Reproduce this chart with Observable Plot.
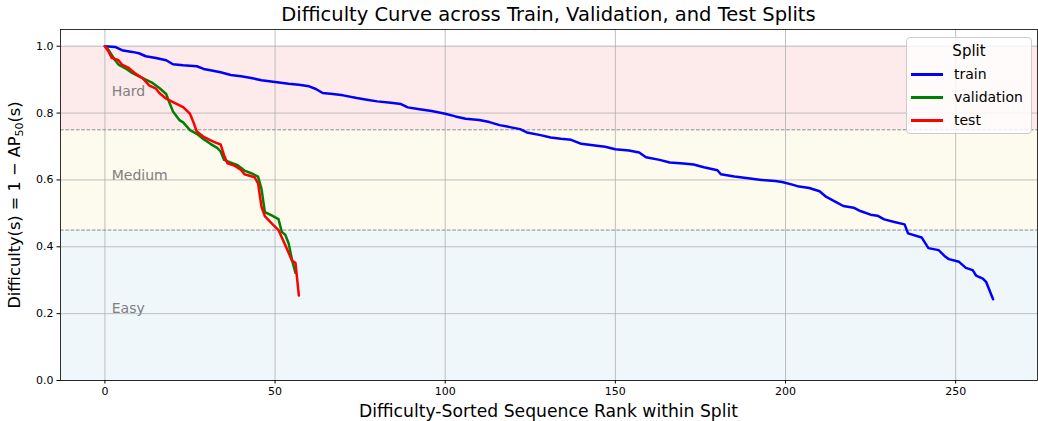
<!DOCTYPE html>
<html><head><meta charset="utf-8">
<script src="https://cdn.jsdelivr.net/npm/d3@7"></script>
<script src="https://cdn.jsdelivr.net/npm/@observablehq/plot@0.6"></script>
<style>
body{margin:0;background:#fff;font-family:"DejaVu Sans",sans-serif;}
#wrap{position:relative;width:1038px;height:421px;overflow:hidden;background:#fff;}
#title{position:absolute;left:60px;width:977px;top:4px;text-align:center;font-size:19.5px;line-height:22px;color:#000;}
#chart{position:absolute;left:0;top:28px;}
#xlabel{position:absolute;left:60px;width:977px;top:401px;text-align:center;font-size:17.2px;line-height:20px;color:#000;}
#ylabel{position:absolute;left:-185px;width:400px;top:195px;text-align:center;font-size:16.2px;line-height:20px;color:#000;transform:rotate(-90deg);}
#ylabel sub{font-size:11px;vertical-align:-3px;line-height:0;}
#legend{position:absolute;left:906px;top:37px;width:124px;height:95px;background:rgba(255,255,255,0.8);border:1px solid #cccccc;border-radius:4px;font-size:14px;color:#000;}
#legend .lt{position:absolute;left:0;width:124px;top:4px;text-align:center;font-size:15px;}
#legend .row{position:absolute;left:0;height:20px;line-height:20px;}
#legend .sw{position:absolute;left:4px;top:9px;width:32px;height:2.5px;}
#legend .lab{position:absolute;left:47px;top:0;white-space:nowrap;}
</style></head><body>
<div id="wrap">
  <div id="title">Difficulty Curve across Train, Validation, and Test Splits</div>
  <div id="chart"></div>
  <div id="xlabel">Difficulty-Sorted Sequence Rank within Split</div>
  <div id="ylabel">Difficulty(s) = 1 − AP<sub>50</sub>(s)</div>
  <div id="legend"></div>
</div>
<script>
const xTicks = [0, 50, 100, 150, 200, 250];
const yTicks = [0, 0.2, 0.4, 0.6, 0.8, 1.0];

const splitNames = ["train", "validation", "test"];
const splitColors = ["#0000ff", "#008000", "#ff0000"];

const trainRank = [0,3,5,8,10,12,15,18,20,23,27,29,31,34,37,40,43,46,50,54,57,60,62,64,67,70,74,77,80,84,87,89,92,96,100,103,106,110,113,116,119,122,124,128,131,134,137,140,144,147,150,154,157,159,163,166,170,173,176,180,181,185,189,193,197,199,202,204,207,210,212,215,217,220,222,225,227,229,232,235,236,240,242,245,247,248,251,253,255,256,258,259,261];
const trainValue = [1.000,0.998,0.988,0.983,0.979,0.970,0.965,0.958,0.946,0.943,0.940,0.932,0.928,0.922,0.914,0.910,0.905,0.898,0.893,0.888,0.885,0.880,0.872,0.860,0.857,0.853,0.845,0.840,0.835,0.831,0.827,0.817,0.812,0.806,0.798,0.790,0.783,0.779,0.773,0.764,0.758,0.752,0.742,0.734,0.727,0.723,0.720,0.708,0.703,0.699,0.692,0.688,0.682,0.668,0.660,0.652,0.649,0.646,0.638,0.629,0.617,0.610,0.605,0.600,0.597,0.594,0.586,0.580,0.576,0.566,0.549,0.533,0.522,0.517,0.507,0.496,0.493,0.482,0.474,0.467,0.440,0.428,0.396,0.390,0.370,0.363,0.355,0.337,0.330,0.314,0.305,0.294,0.243];

const valRank = [0,1,3,4,6,8,10,12,14,16,18,19,20,22,23,25,27,29,31,33,34,35,37,39,41,43,45,46,47,49,51,52,53,54,55,56];
const valValue = [1.000,0.990,0.958,0.945,0.934,0.920,0.910,0.900,0.890,0.875,0.857,0.830,0.805,0.778,0.772,0.749,0.738,0.722,0.708,0.696,0.685,0.660,0.652,0.644,0.628,0.620,0.610,0.574,0.504,0.494,0.483,0.444,0.436,0.410,0.360,0.322];

const testRank = [0,1,2,4,5,7,9,11,13,15,16,18,20,23,25,26,27,29,32,34,35,36,38,40,41,44,45,46,47,49,51,53,55,56,57];
const testValue = [1.000,0.985,0.965,0.958,0.945,0.935,0.918,0.905,0.883,0.873,0.860,0.843,0.833,0.818,0.798,0.773,0.745,0.729,0.714,0.706,0.674,0.650,0.643,0.630,0.617,0.608,0.590,0.520,0.492,0.470,0.450,0.405,0.358,0.352,0.254];

const bandNames = ["Hard", "Medium", "Easy"];
const bandLow = [0.75, 0.45, 0.0];
const bandHigh = [1.0, 0.75, 0.45];
const bandColors = ["#fdeaea", "#fdfaee", "#f0f7fa"];
const bandLabelY = [0.865, 0.612, 0.215];
const thresholds = [0.75, 0.45];

const ranks = [trainRank, valRank, testRank];
const values = [trainValue, valValue, testValue];
const rows = [];
splitNames.forEach((s, k) => ranks[k].forEach((r, i) => rows.push({split: s, rank: r, value: values[k][i], color: splitColors[k]})));
const bands = bandNames.map((n, i) => ({name: n, y1: bandLow[i], y2: bandHigh[i], fill: bandColors[i], ly: bandLabelY[i]}));

const chart = Plot.plot({
  width: 1038, height: 393,
  marginTop: 1, marginBottom: 41, marginLeft: 60, marginRight: 1,
  x: {domain: [-13.05, 274.05]},
  y: {domain: [0, 1.05]},
  color: {type: "identity"},
  style: {fontFamily: "DejaVu Sans", fontSize: "11px", color: "#000", background: "transparent"},
  marks: [
    Plot.rect(bands, {y1: "y1", y2: "y2", fill: "fill"}),
    Plot.gridX({ticks: xTicks, stroke: "#b0b0b0", strokeOpacity: 1, strokeWidth: 0.8}),
    Plot.gridY({ticks: yTicks, stroke: "#b0b0b0", strokeOpacity: 1, strokeWidth: 0.8}),
    Plot.ruleY(thresholds, {stroke: "#8c8c8c", strokeWidth: 1, strokeDasharray: "3.7,1.6"}),
    Plot.text(bands, {x: 2, y: "ly", text: "name", textAnchor: "start", fill: "#808080", fontSize: 14}),
    Plot.line(rows, {x: "rank", y: "value", z: "split", stroke: "color", strokeWidth: 2.5}),
    Plot.frame({stroke: "#000", strokeWidth: 0.8}),
    Plot.axisX({ticks: xTicks, tickSize: 3.5, tickPadding: 3.5, label: null}),
    Plot.axisY({ticks: yTicks, tickSize: 3.5, tickPadding: 3.5, tickFormat: d3.format(".1f"), label: null})
  ]
});
document.getElementById("chart").appendChild(chart);

const legend = document.getElementById("legend");
const lt = document.createElement("div"); lt.className = "lt"; lt.textContent = "Split"; legend.appendChild(lt);
const rowTops = [26, 49, 72];
splitNames.forEach((s, k) => {
  const r = document.createElement("div"); r.className = "row"; r.style.top = rowTops[k] + "px";
  const sw = document.createElement("div"); sw.className = "sw"; sw.style.background = splitColors[k];
  const lab = document.createElement("div"); lab.className = "lab"; lab.textContent = s;
  r.appendChild(sw); r.appendChild(lab); legend.appendChild(r);
});
</script>
</body></html>
